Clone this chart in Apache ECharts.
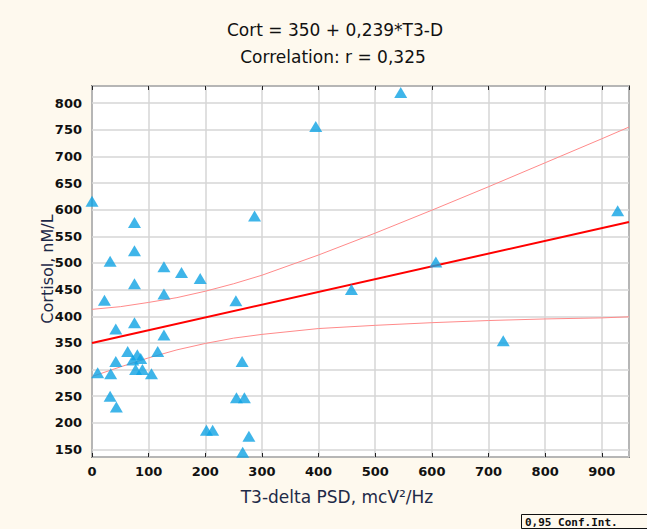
<!DOCTYPE html>
<html>
<head>
<meta charset="utf-8">
<script src="https://cdn.jsdelivr.net/npm/echarts@6/dist/echarts.min.js"></script>
<style>
  html, body { margin: 0; padding: 0; background: #FEF9EE; }
  #chart { width: 647px; height: 529px; }
</style>
</head>
<body>
<div id="chart"></div>
<script>
// ---- Data ----
const titleLine1 = 'Cort = 350 + 0,239*T3-D';
const titleLine2 = 'Correlation: r = 0,325';
const xAxisTitle = 'T3-delta PSD, mcV²/Hz';
const yAxisTitle = 'Cortisol, nM/L';
const legendText = '0,95 Conf.Int.';

// scatter points: T3-delta PSD (x) and Cortisol (y)
const psd = [0, 22, 10, 33, 42, 42, 32, 43, 32, 75, 75, 75, 75, 63, 72, 80, 86, 77, 89, 105, 116,
             127, 127, 127, 158, 191, 202, 213, 254, 255, 269, 265, 277, 266, 287, 395, 545, 458, 607, 726, 928];
const cortisol = [616, 430, 294, 292, 376, 315, 250, 230, 503, 576, 523, 461, 388, 334, 318, 328, 321, 300, 300, 292, 334,
                  493, 442, 365, 482, 471, 186, 186, 429, 247, 247, 315, 175, 145, 588, 756, 820, 450, 502, 354, 598];

// fitted line (read at its two ends)
const fitX = [0, 948];
const fitY = [350, 577];

// 0.95 confidence band, read at these x positions
const bandX = [0, 50, 100, 150, 200, 250, 300, 400, 500, 600, 700, 800, 900, 948];
const bandUpper = [413, 418, 426, 435, 447, 461, 477, 515, 556, 599, 643, 688, 733, 755];
const bandLower = [287, 305, 322, 337, 349, 359, 366, 377, 383, 388, 392, 395, 397, 399];

const zip = (a, b) => a.map((v, i) => [v, b[i]]);

const chart = echarts.init(document.getElementById('chart'), null, { renderer: 'svg' });

const tickFont = { fontFamily: '"DejaVu Sans"', fontWeight: 'bold', fontSize: 13, color: '#111' };

chart.setOption({
  backgroundColor: '#FEF9EE',
  animation: false,
  grid: {
    left: 92, top: 86, right: 18, bottom: 72,
    show: true, backgroundColor: '#ffffff', borderColor: '#222', borderWidth: 1.5
  },
  xAxis: [{
    type: 'value', min: 0, max: 948, interval: 100,
    axisLine: { show: false },
    axisTick: { show: true, inside: true, length: 4, lineStyle: { color: '#222' } },
    axisLabel: Object.assign({ margin: 8, showMaxLabel: false,
      formatter: v => (v % 100 === 0 ? String(v) : '') }, tickFont),
    splitLine: { show: true, lineStyle: { color: '#D6D6D6', width: 1.5 } }
  }, {
    type: 'value', position: 'top', min: 0, max: 948, interval: 100,
    axisLine: { show: false },
    axisTick: { show: true, inside: true, length: 4, lineStyle: { color: '#222' } },
    axisLabel: { show: false },
    splitLine: { show: false }
  }],
  yAxis: {
    type: 'value', min: 136, max: 832, splitNumber: 14,
    axisLine: { show: false },
    axisTick: { show: false },
    axisLabel: Object.assign({ margin: 10, showMinLabel: false, showMaxLabel: false,
      formatter: v => (v % 50 === 0 ? String(v) : '') }, tickFont),
    splitLine: { show: true, lineStyle: { color: '#D6D6D6', width: 1.5 } }
  },
  series: [
    {
      type: 'line', data: zip(bandX, bandUpper), showSymbol: false, symbol: 'none',
      lineStyle: { color: '#FF8A8A', width: 1 }, z: 2
    },
    {
      type: 'line', data: zip(bandX, bandLower), showSymbol: false, symbol: 'none',
      lineStyle: { color: '#FF8A8A', width: 1 }, z: 2
    },
    {
      type: 'line', data: zip(fitX, fitY), showSymbol: false, symbol: 'none',
      lineStyle: { color: '#FF0000', width: 2 }, z: 3
    },
    {
      type: 'scatter', data: zip(psd, cortisol), symbol: 'triangle', symbolSize: [13, 11],
      itemStyle: { color: '#0FA2E3' }, z: 4
    }
  ],
  graphic: [
    { type: 'text', x: 335, y: 30, style: { text: titleLine1, font: '17px "DejaVu Sans"', fill: '#111',
      textAlign: 'center', textVerticalAlign: 'middle' } },
    { type: 'text', x: 333, y: 57, style: { text: titleLine2, font: '17px "DejaVu Sans"', fill: '#111',
      textAlign: 'center', textVerticalAlign: 'middle' } },
    { type: 'text', x: 337, y: 497, style: { text: xAxisTitle, font: '17px "DejaVu Sans"', fill: '#1E2A48',
      textAlign: 'center', textVerticalAlign: 'middle' } },
    { type: 'text', x: 47, y: 269, rotation: Math.PI / 2, style: { text: yAxisTitle, font: '16px "DejaVu Sans"', fill: '#1E2A48',
      textAlign: 'center', textVerticalAlign: 'middle' } },
    { type: 'rect', shape: { x: 521.5, y: 514.5, width: 140, height: 14 },
      style: { fill: '#FEF9EE', stroke: '#111', lineWidth: 1 } },
    { type: 'text', x: 525, y: 522, style: { text: legendText, font: 'bold 11px "DejaVu Sans Mono"', fill: '#111',
      textAlign: 'left', textVerticalAlign: 'middle' } }
  ]
});
</script>
</body>
</html>
